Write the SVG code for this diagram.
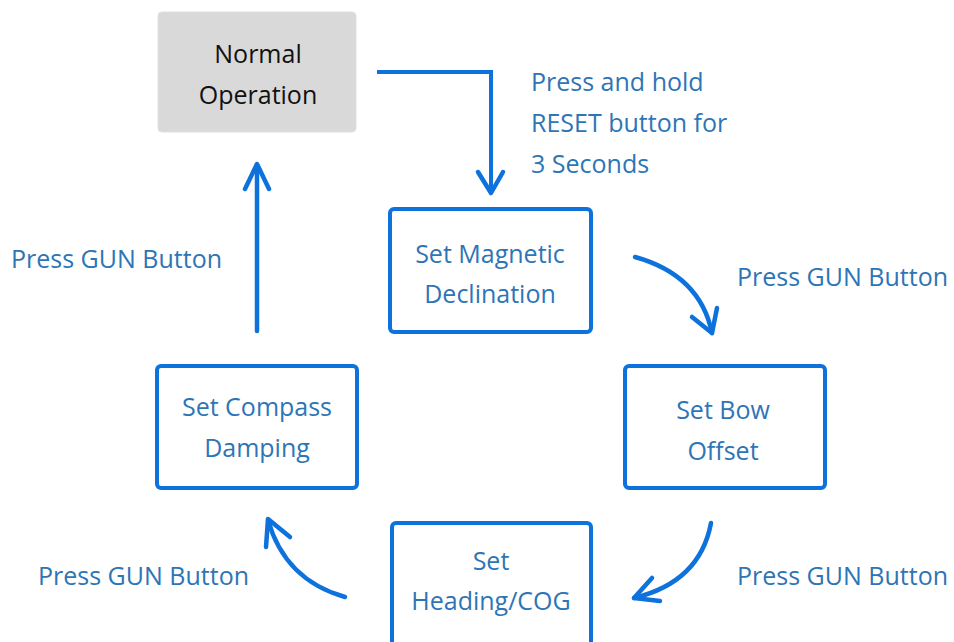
<svg xmlns="http://www.w3.org/2000/svg" width="954" height="642" viewBox="0 0 954 642">
<style>
.box{fill:#ffffff;stroke:#0d72dc;stroke-width:4}
.gray{fill:#d9d9d9;stroke:#e0e0e0;stroke-width:1}
.t{font-family:"Open Sans","Noto Sans",sans-serif;font-size:25px;fill:#2e75b6;text-anchor:middle}
.tb{fill:#111111}
.lbl{font-family:"Open Sans","Noto Sans",sans-serif;font-size:25px;fill:#2e75b6}
.c{fill:none;stroke:#0d72dc;stroke-width:4.5;stroke-linecap:round;stroke-linejoin:round}
.cs{fill:none;stroke:#0d72dc;stroke-width:4;stroke-linecap:butt;stroke-linejoin:miter}
</style>
<rect width="954" height="642" fill="#ffffff"/>
<g id="normal">
<rect class="gray" x="158" y="12" width="198" height="120" rx="4"/>
<text class="t tb" x="258" y="63">Normal</text>
<text class="t tb" x="258" y="104">Operation</text>
</g>
<g id="magnetic">
<rect class="box" x="390" y="209" width="201" height="123" rx="4"/>
<text class="t" x="490" y="263">Set Magnetic</text>
<text class="t" x="490" y="303">Declination</text>
</g>
<g id="bow">
<rect class="box" x="625" y="366" width="200" height="122" rx="4"/>
<text class="t" x="723" y="419">Set Bow</text>
<text class="t" x="723" y="460">Offset</text>
</g>
<g id="heading">
<rect class="box" x="392" y="523" width="199" height="130" rx="4"/>
<text class="t" x="491" y="570">Set</text>
<text class="t" x="491" y="610">Heading/COG</text>
</g>
<g id="compass">
<rect class="box" x="157" y="366" width="200" height="122" rx="4"/>
<text class="t" x="257" y="416">Set Compass</text>
<text class="t" x="257" y="457">Damping</text>
</g>
<g id="connectors">
<polyline class="cs" points="377,72 491,72 491,192"/>
<polyline class="c" points="478,172 491,193 503,172"/>
<line class="c" x1="257" y1="331" x2="257" y2="165"/>
<polyline class="c" points="245,189 257,164 269,189"/>
<path class="c" d="M635,257 Q700,275 712,333"/>
<polyline class="c" points="692,317 712,333 717,308"/>
<path class="c" d="M711,523 Q700,582 634,598"/>
<polyline class="c" points="652,578 634,598 660,601"/>
<path class="c" d="M345,597 Q285,580 268,520"/>
<polyline class="c" points="266,547 268,519 290,537"/>
</g>
<g id="labels">
<text class="lbl" x="531" y="91">Press and hold</text>
<text class="lbl" x="531" y="132">RESET button for</text>
<text class="lbl" x="531" y="173">3 Seconds</text>
<text class="lbl" x="11" y="268">Press GUN Button</text>
<text class="lbl" x="737" y="286">Press GUN Button</text>
<text class="lbl" x="38" y="585">Press GUN Button</text>
<text class="lbl" x="737" y="585">Press GUN Button</text>
</g>
</svg>
